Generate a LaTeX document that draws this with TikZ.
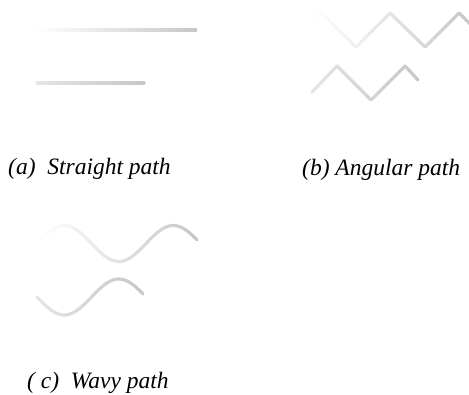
\documentclass[tikz,border=0pt]{standalone}
\usepackage{fontspec}
\setmainfont{Liberation Serif}
\usetikzlibrary{fadings}
\definecolor{linegray}{RGB}{198,198,198}
\tikzfading[name=fadein, left color=transparent!100, right color=transparent!0]
\tikzfading[name=fadesoft, left color=transparent!55, right color=transparent!0]
\tikzset{
  pathline/.style={draw=linegray, line width=3.2pt, line cap=round, line join=round},
  caption/.style={anchor=base west, inner sep=0pt, font=\fontsize{23.5}{28}\selectfont\itshape, text=black}
}
\begin{document}
\begin{tikzpicture}[x=1pt, y=-1pt]
\useasboundingbox (0,0) rectangle (469,394);
% (a) straight paths
\draw[pathline, line cap=butt, path fading=fadein] (36,30) -- (197,30);
\draw[pathline, path fading=fadesoft] (37,83) -- (144,83);
% (b) angular paths
\draw[pathline, path fading=fadein] (312,22) -- (321,13) -- (356,47) -- (390,13) -- (425,47) -- (459,13) -- (472,26);
\draw[pathline, path fading=fadesoft] (312,92) -- (337,66) -- (371,100) -- (405,66) -- (418,80);
% (c) wavy paths
\draw[pathline, path fading=fadein] plot[domain=37:197, samples=80, smooth] (\x, {243.5 - 18*sin(3.3028*(\x-37))});
\draw[pathline, path fading=fadesoft] plot[domain=37:143, samples=60, smooth] (\x, {297 + 18*sin(3.3028*(\x-37))});
% captions
\node[caption] (capa) at (8,174) {(a)\ \ Straight path};
\node[caption] (capb) at (302,175) {(b) Angular path};
\node[caption] (capc) at (27,388) {(\ c)\ \ Wavy path};
\end{tikzpicture}
\end{document}
